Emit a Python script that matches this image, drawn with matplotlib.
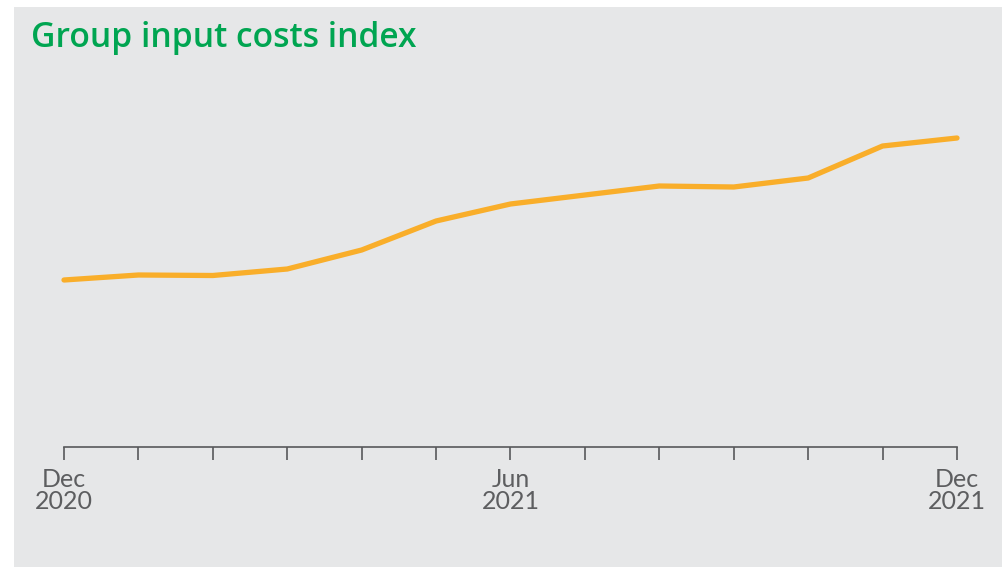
import matplotlib
matplotlib.use("Agg")
import matplotlib.pyplot as plt
from matplotlib.patches import Rectangle

months = ["Dec\n2020", "", "", "", "", "", "Jun\n2021", "", "", "", "", "", "Dec\n2021"]
index_values = [100.0, 101.0, 100.9, 102.2, 106.0, 111.8, 115.2, 117.0, 118.8, 118.6, 120.4, 126.8, 128.4]
title = "Group input costs index"

fig = plt.figure(figsize=(10.02, 5.67), dpi=100)
fig.patch.set_facecolor("white")
fig.add_artist(Rectangle((14/1002, 0), 1 - 14/1002, 1 - 7/567, transform=fig.transFigure,
                         facecolor="#e6e7e8", edgecolor="none", zorder=-10))

ax = fig.add_axes([64/1002, 1 - 447/567, (957 - 64)/1002, (447 - 70)/567])
ax.set_zorder(5)
ax.set_facecolor("none")
x = list(range(len(index_values)))
ax.plot(x, index_values, color="#f9ae2a", lw=3.8, solid_capstyle="round", solid_joinstyle="round", clip_on=False)
ax.set_xlim(0, len(index_values) - 1)
ax.set_ylim(66.6, 142)
for s in ["top", "right", "left"]:
    ax.spines[s].set_visible(False)
ax.spines["bottom"].set_color("#58595b")
ax.spines["bottom"].set_linewidth(1.2)
ax.set_yticks([])
ax.set_xticks(x)
ax.set_xticklabels(months, fontsize=18, color="#5d5e60", family="Lato", linespacing=0.95)
ax.tick_params(axis="x", length=9, width=1.2, color="#58595b", pad=6)

fig.text(31/1002, 1 - 47/567, title, color="#00a551", fontsize=24.2, family="Open Sans",
         weight="semibold", va="baseline", ha="left", zorder=6)

fig.savefig("out.png", dpi=100, facecolor="white")
